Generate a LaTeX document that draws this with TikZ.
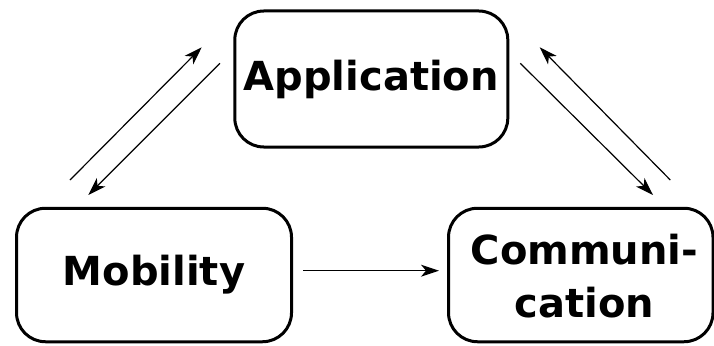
\documentclass[tikz,border=0pt]{standalone}
\usepackage{fontspec}
\setmainfont{DejaVu Sans}
\usetikzlibrary{arrows.meta}
\begin{document}
\begin{tikzpicture}[x=1pt,y=-1pt,
  boxnode/.style={draw=black, line width=3pt, rounded corners=29pt, inner sep=0pt,
    font=\bfseries\fontsize{40}{53}\selectfont, align=center},
  txt/.style={inner sep=0pt, font=\bfseries\fontsize{40}{53}\selectfont, align=center},
  link/.style={line width=1.2pt, -{Stealth[length=18pt,width=12pt,inset=5pt]}}]
\useasboundingbox (0,0) rectangle (714,345);
\node[boxnode, minimum width=273pt, minimum height=136pt] (app) at (371.3,79) {Application};
\node[boxnode, minimum width=275pt, minimum height=133.5pt] (mob) at (154,275) {Mobility};
\node[boxnode, minimum width=264.5pt, minimum height=133.5pt] (comm) at (580.75,275) {};
\node[txt] (commtext) at (584.5,276.3) {Communi-\\cation};
% connector endpoints
\coordinate (l1s) at (70,180);   \coordinate (l1e) at (201.7,47.3);
\coordinate (l2s) at (220,63.3); \coordinate (l2e) at (88.3,195);
\coordinate (r1s) at (520.3,63.3); \coordinate (r1e) at (653,195);
\coordinate (r2s) at (670.3,180);  \coordinate (r2e) at (539.7,47.3);
\coordinate (hs) at (303,270.7);   \coordinate (he) at (439,270.7);
\draw[link] (l1s) -- (l1e);
\draw[link] (l2s) -- (l2e);
\draw[link] (r1s) -- (r1e);
\draw[link] (r2s) -- (r2e);
\draw[link] (hs) -- (he);
\end{tikzpicture}
\end{document}
